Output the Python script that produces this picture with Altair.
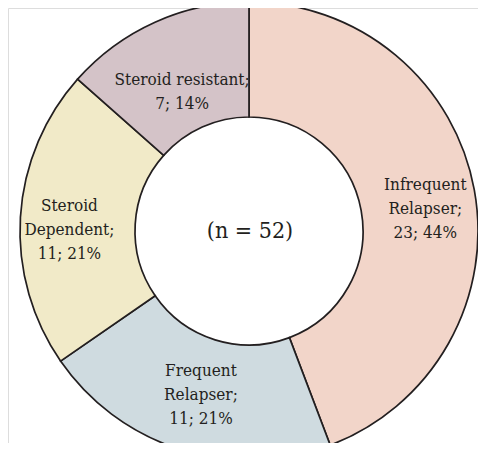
import altair as alt
import pandas as pd

categories = ["Infrequent Relapser", "Frequent Relapser", "Steroid Dependent", "Steroid resistant"]
counts = [23, 11, 11, 7]
percents = [44, 21, 21, 14]
label_texts = [
    "Infrequent\nRelapser;\n23; 44%",
    "Frequent\nRelapser;\n11; 21%",
    "Steroid\nDependent;\n11; 21%",
    "Steroid resistant;\n7; 14%",
]
colors = ["#f2d5c9", "#cfdbe0", "#f1eac8", "#d4c3c8"]
center_text = ["(n = 52)"]

df = pd.DataFrame({
    "category": categories,
    "count": counts,
    "percent": percents,
    "label": label_texts,
    "idx": list(range(len(categories))),
})

CX, CY = 241, 223
FONT = "DejaVu Serif Condensed"
LH = 24
A, B = 180, 160  # label ellipse radii
DROP = 10        # small downward nudge of the labels

arcs = alt.Chart(df).mark_arc(
    outerRadius=229, innerRadius=114, stroke="#231f20", strokeWidth=1.7
).encode(
    theta=alt.Theta("count:Q", stack=True),
    order=alt.Order("idx:Q"),
    color=alt.Color("category:N", scale=alt.Scale(domain=categories, range=colors), legend=None),
    x=alt.value(CX),
    y=alt.value(CY),
)

labels = alt.Chart(df).transform_joinaggregate(
    total="sum(count)"
).transform_window(
    cum="sum(count)", sort=[alt.SortField("idx")], frame=[None, 0]
).transform_calculate(
    mid="2*PI*(datum.cum - datum.count/2)/datum.total",
    nlines="length(split(datum.label, '\\n'))",
).transform_calculate(
    rlab=f"{A}*{B}/sqrt(pow({B}*sin(datum.mid),2)+pow({A}*cos(datum.mid),2))",
).transform_calculate(
    lx=f"{CX} + datum.rlab*sin(datum.mid)",
    ly=f"{CY} + {DROP} - datum.rlab*cos(datum.mid) - (datum.nlines-1)*{LH}/2",
).mark_text(
    font=FONT, fontSize=17, color="#231f20", lineBreak="\n",
    lineHeight=LH, align="center", baseline="middle"
).encode(
    text="label:N",
    x=alt.X("lx:Q", scale=None, axis=None),
    y=alt.Y("ly:Q", scale=None, axis=None),
)

center = alt.Chart(pd.DataFrame({"t": center_text})).mark_text(
    font=FONT, fontSize=23, color="#231f20", align="center", baseline="middle"
).encode(
    text="t:N",
    x=alt.value(CX + 1),
    y=alt.value(CY),
)

chart = alt.layer(arcs, labels, center).properties(
    width=470, height=435, padding=0, autosize=alt.AutoSizeParams(type="none")
).configure_view(stroke=None).configure(background="white")

chart.save("out.html", embed_options={"renderer": "svg", "actions": False})
